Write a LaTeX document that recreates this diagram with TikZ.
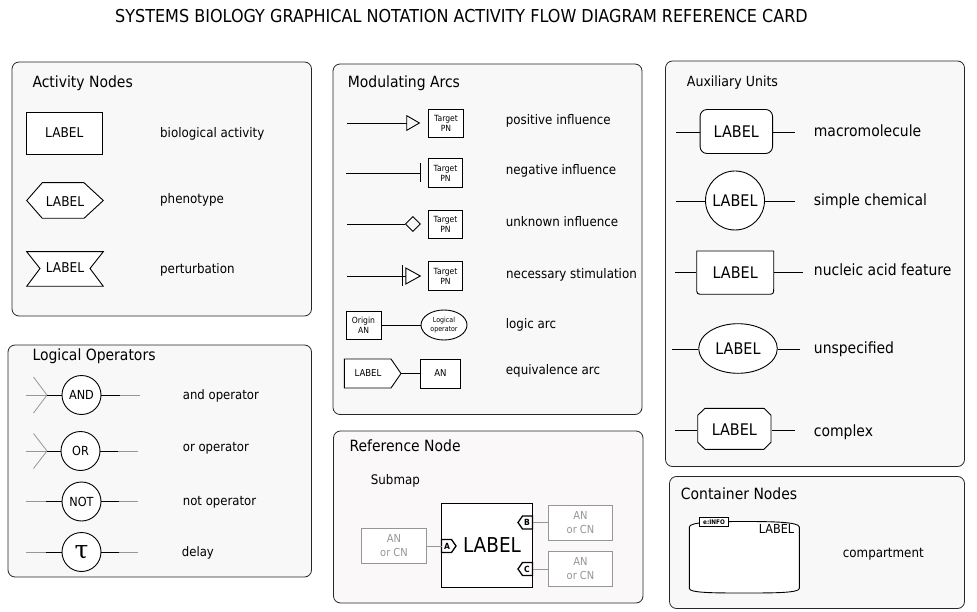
\documentclass[tikz,border=0pt]{standalone}
\usepackage{fontspec}
\setmainfont{DejaVu Sans}[FakeStretch=0.9]
\newfontfamily\taufont{DejaVu Serif}
\usetikzlibrary{arrows.meta,shapes.geometric}
\newcommand{\mysize}[1]{\fontsize{#1}{#1}\selectfont}
\definecolor{panelfill}{RGB}{248,248,248}
\definecolor{reffill}{RGB}{250,248,248}
\definecolor{lgray}{RGB}{150,150,150}
\begin{document}
\begin{tikzpicture}[x=1pt,y=-1pt,
  panel/.style={draw=black!85, fill=panelfill, rounded corners=7pt, line width=0.8pt},
  ptitle/.style={anchor=base west, inner sep=0pt, font=\mysize{15.5}},
  desc/.style={anchor=base west, inner sep=0pt, font=\mysize{13.2}},
  shp/.style={line width=0.9pt},
  box/.style={draw, line width=0.9pt, fill=white, inner sep=0pt, align=center},
  op/.style={circle, draw, line width=0.9pt, fill=white, inner sep=0pt, minimum size=39pt, font=\mysize{12.5}},
  gline/.style={draw=lgray, line width=0.8pt},
  bline/.style={draw=black, line width=1pt},
  gbox/.style={draw=lgray, line width=0.8pt, fill=white, minimum width=65pt, minimum height=35pt, inner sep=0pt, align=center, text=lgray, font={\fontsize{11}{14}\selectfont}},
  port/.style={draw=black, line width=1.3pt, fill=white},
  plet/.style={inner sep=0pt, font=\bfseries\mysize{8.5}},
  aux/.style={line width=0.9pt, inner sep=0pt, font=\mysize{16}},
  auxd/.style={aux, draw, fill=white},
  tgt/.style={box, minimum width=34.5pt, minimum height=28pt, font={\fontsize{8.5}{10}\selectfont}}
]
\fill[white] (0,0) rectangle (977,612);
\useasboundingbox (0,0) rectangle (977,612);

% Title
\node[anchor=base west, inner sep=0pt, font=\mysize{17.8}] (title) at (115,23) {SYSTEMS BIOLOGY GRAPHICAL NOTATION ACTIVITY FLOW DIAGRAM REFERENCE CARD};

% Panels
\draw[panel] (12,62) rectangle (311.5,316);
\draw[panel] (8,345) rectangle (311.5,577);
\draw[panel] (333,64) rectangle (642,414.5);
\draw[panel, fill=reffill] (333.5,431) rectangle (643,603);
\draw[panel] (665.5,61) rectangle (964.5,466.5);
\draw[panel] (669.5,476.5) rectangle (964.5,608.5);

% ---------- Activity Nodes
\node[ptitle] (tAct) at (32.3,87.3) {Activity Nodes};
\node[box, minimum width=76pt, minimum height=42pt, font=\mysize{13.5}] (ba) at (64.3,133) {LABEL};
\node[desc] (dba) at (160,137.3) {biological activity};
\draw[shp, fill=white] (26.7,200.5) -- (42.3,182.7) -- (84,182.7) -- (103.3,200.5) -- (84,218.3) -- (42.3,218.3) -- cycle;
\node[inner sep=0pt, font=\mysize{13.5}] (ph) at (65,201.5) {LABEL};
\node[desc] (dph) at (160,203.5) {phenotype};
\draw[shp, fill=white] (26.7,251.7) -- (103.3,251.7) -- (90,268.5) -- (103.3,286.3) -- (26.7,286.3) -- (40,268.5) -- cycle;
\node[inner sep=0pt, font=\mysize{13.5}] (pt) at (65,267.5) {LABEL};
\node[desc] (dpt) at (160,273.3) {perturbation};

% ---------- Logical Operators
\node[ptitle] (tLog) at (32.3,360.7) {Logical Operators};
% AND
\node[op] (and) at (81.5,395) {AND};
\coordinate (andL) at (47,395);
\coordinate (andR) at (120,395);
\draw[gline] (26,395) -- (andL);
\draw[gline] (33.5,377) -- (andL);
\draw[gline] (33.5,413) -- (andL);
\draw[bline] (andL) -- (and);
\draw[bline] (and) -- (andR);
\draw[gline] (andR) -- (140,395);
\node[desc, font=\mysize{13}] (dand) at (182.7,399.3) {and operator};
% OR
\node[op] (or) at (80.5,451) {OR};
\coordinate (orL) at (47,451);
\coordinate (orR) at (118,451);
\draw[gline] (26,451) -- (orL);
\draw[gline] (33.5,433.5) -- (orL);
\draw[gline] (33.5,468.5) -- (orL);
\draw[bline] (orL) -- (or);
\draw[bline] (or) -- (orR);
\draw[gline] (orR) -- (138,451);
\node[desc, font=\mysize{13}] (dor) at (182.7,451) {or operator};
% NOT
\node[op] (not) at (81.5,501.5) {NOT};
\coordinate (notL) at (46,501.5);
\coordinate (notR) at (119,501.5);
\draw[gline] (26,501.5) -- (notL);
\draw[bline] (notL) -- (not);
\draw[bline] (not) -- (notR);
\draw[gline] (notR) -- (138,501.5);
\node[desc, font=\mysize{13}] (dnot) at (182.7,505) {not operator};
% delay
\node[op, font=\taufont\fontsize{25}{25}\selectfont] (tau) at (81.5,552) {τ};
\coordinate (tauL) at (46,552);
\coordinate (tauR) at (119,552);
\draw[gline] (26,552) -- (tauL);
\draw[bline] (tauL) -- (tau);
\draw[bline] (tau) -- (tauR);
\draw[gline] (tauR) -- (138,552);
\node[desc, font=\mysize{13}] (ddel) at (181.7,556) {delay};

% ---------- Modulating Arcs
\node[ptitle] (tMod) at (347.7,87.7) {Modulating Arcs};
% positive
\node[tgt] (t1) at (446,123) {Target\\PN};
\coordinate (s1) at (347,123);
\draw[line width=0.9pt, -{Triangle[open, length=14pt, width=16pt, line width=0.9pt]}, shorten >=8pt] (s1) -- (t1.west);
\node[desc] (d1) at (505.7,125) {positive influence};
% negative
\node[tgt, minimum height=29pt] (t2) at (445.5,173) {Target\\PN};
\coordinate (s2) at (346,173);
\draw[line width=0.9pt, -{Bar[width=19pt, line width=0.9pt]}, shorten >=7pt] (s2) -- (t2.west);
\node[desc] (d2) at (505.7,175) {negative influence};
% unknown
\node[tgt] (t3) at (445.5,224) {Target\\PN};
\coordinate (s3) at (347,224);
\draw[line width=0.9pt, -{Diamond[open, length=16pt, width=16pt, line width=0.9pt]}, shorten >=7pt] (s3) -- (t3.west);
\node[desc] (d3) at (505.7,226.7) {unknown influence};
% necessary stimulation
\node[tgt, minimum height=29pt] (t4) at (445.5,276) {Target\\PN};
\coordinate (s4) at (347,276);
\draw[line width=0.9pt] (s4) -- ([xshift=-22pt]t4.west);
\draw[line width=0.9pt] ([shift={(-25,-10.5)}]t4.west) -- ([shift={(-25,10.5)}]t4.west);
\draw[line width=0.9pt, fill=white] ([shift={(-22,-8)}]t4.west) -- ([shift={(-7.5,0)}]t4.west) -- ([shift={(-22,8)}]t4.west) -- cycle;
\node[desc] (d4) at (506,279) {necessary stimulation};
% logic arc
\node[tgt, minimum width=35pt] (orig) at (363.5,325) {Origin\\AN};
\node[ellipse, draw, line width=0.9pt, fill=white, minimum width=46pt, minimum height=30pt, inner sep=0pt, align=center, font={\fontsize{7}{8.5}\selectfont}] (lop) at (444,325) {Logical\\operator};
\draw[line width=1pt] (orig) -- (lop);
\node[desc] (d5) at (505.7,328.3) {logic arc};
% equivalence arc
\draw[shp, fill=white] (344.3,359) -- (391,359) -- (401,373.5) -- (391,388) -- (344.3,388) -- cycle;
\node[inner sep=0pt, font=\mysize{9.5}] (tag) at (368,373.5) {LABEL};
\coordinate (tagtip) at (401,373.5);
\node[box, minimum width=39.5pt, minimum height=29pt, font=\mysize{9.5}] (an) at (440.5,373.5) {AN};
\draw[line width=1pt] (tagtip) -- (an);
\node[desc] (d6) at (505.7,374.3) {equivalence arc};

% ---------- Reference Node
\node[ptitle] (tRef) at (349.3,451.7) {Reference Node};
\node[desc] (dsub) at (370.7,484.3) {Submap};
\node[draw, line width=1.7pt, fill=white, minimum width=91pt, minimum height=84pt, inner sep=0pt] (sub) at (487,545.5) {};
\node[inner sep=0pt, font=\mysize{20.5}] (sublab) at (492,545) {LABEL};
\node[gbox] (ga) at (394,546) {AN\\or CN};
\node[gbox, minimum width=64.5pt] (gb) at (580.5,522.5) {AN\\or CN};
\node[gbox, minimum width=64.5pt] (gc) at (580.5,569) {AN\\or CN};
% ports
\draw[port] (441.5,539.5) -- (451.5,539.5) -- (456,546) -- (451.5,552.5) -- (441.5,552.5) -- cycle;
\node[plet] (pA) at (447,546) {A};
\coordinate (pa) at (441.5,546);
\draw[port] (532.5,516) -- (522.5,516) -- (518,522.5) -- (522.5,529) -- (532.5,529) -- cycle;
\node[plet] (pB) at (527,522.5) {B};
\coordinate (pb) at (532.5,522.5);
\draw[port] (532.5,562.5) -- (522.5,562.5) -- (518,569) -- (522.5,575.5) -- (532.5,575.5) -- cycle;
\node[plet] (pC) at (527,569) {C};
\coordinate (pc) at (532.5,569);
\draw[gline, line width=1pt] (ga.east) -- (pa);
\draw[gline, line width=1pt] (pb) -- (gb.west);
\draw[gline, line width=1pt] (pc) -- (gc.west);

% ---------- Auxiliary Units
\node[ptitle, font=\mysize{14}] (tAux) at (686.7,86.7) {Auxiliary Units};
% macromolecule
\node[auxd, rounded corners=7pt, minimum width=72.5pt, minimum height=44pt] (mm) at (736.3,131.5) {LABEL};
\coordinate (mmL) at (676,132);
\coordinate (mmR) at (795,132);
\draw[line width=0.9pt] (mmL) -- (mmL -| mm.west);
\draw[line width=0.9pt] (mmR -| mm.east) -- (mmR);
\node[desc, font=\mysize{15.5}] (dmm) at (813.7,136.7) {macromolecule};
% simple chemical
\node[auxd, circle, minimum size=59pt] (sc) at (735,200.5) {LABEL};
\coordinate (scL) at (675.5,201.5);
\coordinate (scR) at (794.5,201.5);
\draw[line width=0.9pt] (scL) -- (scL -| sc.west);
\draw[line width=0.9pt] (scR -| sc.east) -- (scR);
\node[desc, font=\mysize{15.5}] (dsc) at (813.7,206) {simple chemical};
% nucleic acid feature
\draw[line width=0.9pt, fill=white] (696.7,251) -- (773.7,251) -- (773.7,287.5) .. controls (773.7,294.3) .. (766.7,294.3) -- (703.7,294.3) .. controls (696.7,294.3) .. (696.7,287.5) -- cycle;
\node[aux, minimum width=77pt, minimum height=43pt] (naf) at (735.2,272.5) {LABEL};
\coordinate (nafL) at (675,272.5);
\coordinate (nafR) at (803,272.5);
\draw[line width=0.9pt] (nafL) -- (naf);
\draw[line width=0.9pt] (naf) -- (nafR);
\node[desc, font=\mysize{15.5}] (dnaf) at (813.7,275.7) {nucleic acid feature};
% unspecified
\node[auxd, ellipse, minimum width=78.6pt, minimum height=49.6pt] (un) at (738,348.5) {LABEL};
\coordinate (unL) at (672,349);
\coordinate (unR) at (800,349);
\draw[line width=0.9pt] (unL) -- (unL -| un.west);
\draw[line width=0.9pt] (unR -| un.east) -- (unR);
\node[desc, font=\mysize{15.5}] (dun) at (813.7,353.3) {unspecified};
% complex
\draw[line width=0.9pt, fill=white] (705,408.3) -- (764,408.3) -- (771,415.3) -- (771,442.3) -- (764,449.3) -- (705,449.3) -- (697.7,442.3) -- (697.7,415.3) -- cycle;
\node[aux, minimum width=73.3pt, minimum height=41pt] (cx) at (734.4,429.5) {LABEL};
\coordinate (cxL) at (675,430);
\coordinate (cxR) at (795,430);
\draw[line width=0.9pt] (cxL) -- (cxL -| cx.west);
\draw[line width=0.9pt] (cxR -| cx.east) -- (cxR);
\node[desc, font=\mysize{15.5}] (dcx) at (813.7,436) {complex};

% ---------- Container Nodes
\node[ptitle] (tCon) at (680.7,499.3) {Container Nodes};
\draw[line width=0.9pt, fill=white] (689.3,588.5) -- (689.3,527) .. controls (689.5,522) and (715,521.5) .. (744.3,521.5) .. controls (773,521.5) and (799,522) .. (799.3,527) -- (799.3,588.5) .. controls (799,593) and (773,593) .. (744.3,593) .. controls (715,593) and (689.5,593) .. (689.3,588.5) -- cycle;
\node[draw, line width=0.9pt, fill=white, minimum width=29.4pt, minimum height=8.5pt, inner sep=0pt, font=\bfseries\mysize{6.3}] (einfo) at (714,522) {e:INFO};
\node[inner sep=0pt, font=\mysize{12.5}] (clab) at (776.5,529) {LABEL};
\node[desc] (dcomp) at (842.7,557.3) {compartment};
\end{tikzpicture}
\end{document}
